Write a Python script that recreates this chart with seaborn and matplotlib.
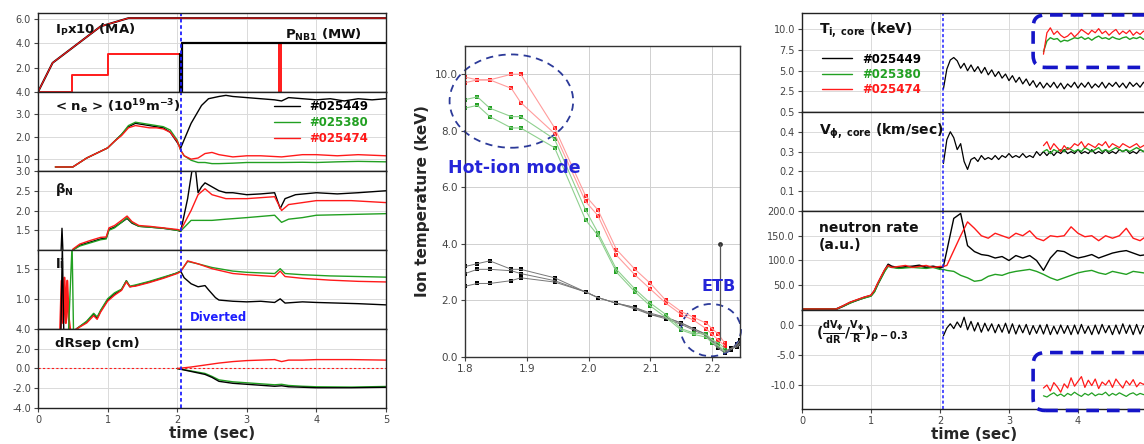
import matplotlib
matplotlib.use('Agg')
import matplotlib.pyplot as plt
import seaborn as sns
from matplotlib.patches import Ellipse, FancyBboxPatch
from matplotlib.lines import Line2D

# ---------------- data ----------------
shots = ['#025449', '#025380', '#025474']

# left: Ip x10 and NBI power
ip_t = [0, 0.21, 0.9, 1.3, 5.0]
ip = [0, 2.4, 5.4, 6.08, 6.08]
pnb_red_t = [0, 0.49, 0.49, 1.0, 1.0, 2.04, 2.04, 2.07, 2.07, 3.46, 3.46, 3.49, 3.49, 5.0]
pnb_red = [0, 0, 1.4, 1.4, 3.15, 3.15, 0, 0, 4.0, 4.0, 0, 0, 4.0, 4.0]
pnb_blk_t = [2.04, 2.04, 2.07, 2.07, 3.45, 3.5, 5.0]
pnb_blk = [3.15, 0, 0, 4.0, 4.0, 4.0, 4.0]

# left: line averaged density
ne_t_pre = [0.25, 0.5, 0.7, 0.9, 1.0, 1.1, 1.2, 1.3, 1.4, 1.5, 1.6, 1.7, 1.8, 1.9, 2.0, 2.05]
ne_blk_pre = [0.65, 0.65, 1.05, 1.35, 1.5, 1.8, 2.1, 2.45, 2.6, 2.55, 2.5, 2.45, 2.4, 2.2, 1.75, 1.5]
ne_grn_pre = [0.65, 0.65, 1.05, 1.35, 1.5, 1.8, 2.1, 2.5, 2.65, 2.6, 2.55, 2.5, 2.45, 2.3, 1.85, 1.4]
ne_red_pre = [0.65, 0.65, 1.05, 1.35, 1.5, 1.8, 2.05, 2.4, 2.5, 2.45, 2.4, 2.4, 2.35, 2.2, 1.8, 1.4]
ne_blk_t_post = [2.05, 2.2, 2.35, 2.45, 2.6, 2.7, 2.8, 3.0, 3.2, 3.4, 3.5, 3.6, 3.8, 4.0, 4.2, 4.4, 4.6, 4.8, 5.0]
ne_blk_post = [1.5, 2.6, 3.4, 3.7, 3.8, 3.85, 3.8, 3.75, 3.7, 3.65, 3.6, 3.75, 3.7, 3.65, 3.7, 3.6, 3.7, 3.65, 3.7]
ne_t_post = [2.05, 2.1, 2.2, 2.3, 2.4, 2.5, 2.6, 2.8, 3.0, 3.2, 3.5, 3.8, 4.0, 4.3, 4.6, 5.0]
ne_red_post = [1.4, 1.15, 1.0, 1.05, 1.25, 1.3, 1.2, 1.1, 1.15, 1.15, 1.1, 1.2, 1.2, 1.15, 1.2, 1.15]
ne_grn_post = [1.4, 1.15, 0.95, 0.85, 0.85, 0.8, 0.8, 0.82, 0.85, 0.85, 0.85, 0.86, 0.85, 0.88, 0.9, 0.88]

# left: beta_N
bn_t_pre = [0.5, 0.6, 0.75, 0.9, 0.98, 1.02, 1.1, 1.2, 1.28, 1.35, 1.45, 1.6, 1.8, 2.0, 2.05]
bn_blk_pre = [1.0, 1.12, 1.2, 1.28, 1.3, 1.52, 1.58, 1.7, 1.8, 1.68, 1.6, 1.58, 1.55, 1.5, 1.47]
bn_red_pre = [1.02, 1.15, 1.24, 1.32, 1.33, 1.56, 1.62, 1.75, 1.86, 1.72, 1.62, 1.6, 1.56, 1.52, 1.5]
bn_grn_pre = [1.0, 1.1, 1.18, 1.26, 1.28, 1.5, 1.56, 1.7, 1.82, 1.7, 1.6, 1.58, 1.55, 1.5, 1.48]
bn_blk_t_post = [2.05, 2.15, 2.22, 2.26, 2.3, 2.35, 2.4, 2.5, 2.6, 2.7, 2.8, 3.0, 3.2, 3.4, 3.48, 3.55, 3.7, 4.0, 4.3, 4.6, 5.0]
bn_blk_post = [1.47, 2.3, 3.1, 3.1, 2.45, 2.6, 2.7, 2.6, 2.5, 2.45, 2.45, 2.4, 2.42, 2.45, 2.05, 2.3, 2.4, 2.45, 2.42, 2.45, 2.5]
bn_t_post = [2.05, 2.2, 2.3, 2.4, 2.5, 2.7, 3.0, 3.4, 3.5, 3.6, 3.8, 4.0, 4.5, 5.0]
bn_red_post = [1.5, 2.0, 2.4, 2.55, 2.4, 2.3, 2.3, 2.35, 2.0, 2.15, 2.2, 2.25, 2.25, 2.2]
bn_grn_post = [1.48, 1.75, 1.75, 1.75, 1.75, 1.78, 1.82, 1.88, 1.7, 1.78, 1.82, 1.88, 1.9, 1.92]
bn_spk_t = [0.33, 0.345, 0.36]
bn_spk = [0.9, 1.55, 0.9]

# left: internal inductance
li_t_pre = [0.55, 0.7, 0.8, 0.85, 0.9, 1.0, 1.1, 1.2, 1.27, 1.32, 1.4, 1.6, 1.8, 2.0, 2.05]
li_blk_pre = [0.5, 0.62, 0.75, 0.68, 0.8, 0.98, 1.08, 1.15, 1.3, 1.2, 1.22, 1.28, 1.35, 1.43, 1.46]
li_red_pre = [0.5, 0.6, 0.72, 0.66, 0.78, 0.96, 1.06, 1.14, 1.28, 1.2, 1.21, 1.27, 1.34, 1.42, 1.45]
li_grn_pre = [0.5, 0.63, 0.76, 0.7, 0.81, 1.0, 1.1, 1.16, 1.3, 1.21, 1.23, 1.29, 1.36, 1.43, 1.46]
li_t_post = [2.05, 2.15, 2.3, 2.5, 2.8, 3.0, 3.4, 3.48, 3.55, 3.8, 4.2, 4.6, 5.0]
li_red_post = [1.45, 1.63, 1.58, 1.5, 1.42, 1.4, 1.37, 1.46, 1.37, 1.34, 1.31, 1.29, 1.28]
li_grn_post = [1.46, 1.62, 1.58, 1.52, 1.46, 1.44, 1.42, 1.5, 1.42, 1.4, 1.38, 1.37, 1.36]
li_blk_t_post = [2.05, 2.1, 2.2, 2.3, 2.4, 2.45, 2.55, 2.6, 2.8, 3.0, 3.2, 3.4, 3.48, 3.55, 3.8, 4.0, 4.3, 4.6, 5.0]
li_blk_post = [1.46, 1.35, 1.25, 1.2, 1.22, 1.15, 1.02, 0.98, 0.96, 0.95, 0.96, 0.94, 1.0, 0.93, 0.95, 0.94, 0.93, 0.92, 0.9]
li_red_spk_t = [0.32, 0.34, 0.36, 0.38, 0.40, 0.42, 0.44, 0.46]
li_red_spk = [0.5, 1.3, 0.6, 1.35, 0.6, 1.3, 0.7, 0.5]
li_grn_spk_t = [0.44, 0.47, 0.49, 0.51]
li_grn_spk = [0.5, 1.35, 1.9, 0.5]
li_blk_spk_t = [0.33, 0.35, 0.37]
li_blk_spk = [0.5, 1.9, 0.5]

# left: gap to separatrix
dr_t = [2.0, 2.2, 2.4, 2.5, 2.6, 2.8, 3.0, 3.2, 3.4, 3.5, 3.6, 3.8, 4.0, 4.5, 5.0]
dr_blk = [0, -0.3, -0.6, -0.9, -1.3, -1.5, -1.6, -1.7, -1.8, -1.75, -1.85, -1.9, -1.95, -1.95, -1.9]
dr_grn = [0, -0.25, -0.5, -0.8, -1.15, -1.35, -1.45, -1.55, -1.65, -1.6, -1.72, -1.8, -1.85, -1.88, -1.82]
dr_red = [0, 0.15, 0.35, 0.45, 0.55, 0.7, 0.8, 0.85, 0.9, 0.7, 0.85, 0.85, 0.9, 0.9, 0.85]

# middle: ion temperature profiles (major radius in m)
R_hot = [1.80, 1.82, 1.84, 1.875, 1.89, 1.945, 1.995, 2.015, 2.045, 2.075, 2.10, 2.125, 2.15, 2.17, 2.19, 2.20, 2.21, 2.22]
ti_red1 = [9.9, 9.8, 9.8, 10.0, 10.0, 8.1, 5.7, 5.2, 3.8, 3.1, 2.6, 2.0, 1.6, 1.4, 1.2, 1.0, 0.8, 0.5]
ti_red2 = [9.7, 9.8, 9.8, 9.5, 9.0, 7.9, 5.5, 5.0, 3.6, 2.9, 2.4, 1.9, 1.5, 1.3, 1.0, 0.8, 0.6, 0.4]
ti_grn1 = [9.1, 9.2, 8.8, 8.5, 8.5, 7.7, 5.2, 4.4, 3.1, 2.4, 1.9, 1.5, 1.0, 0.85, 0.8, 0.6, 0.5, 0.3]
ti_grn2 = [8.8, 8.9, 8.5, 8.1, 8.1, 7.4, 4.85, 4.3, 3.0, 2.3, 1.8, 1.4, 0.95, 0.8, 0.7, 0.5, 0.4, 0.2]
R_blk = [1.80, 1.82, 1.84, 1.875, 1.89, 1.945, 1.995, 2.015, 2.045, 2.075, 2.10, 2.125, 2.15, 2.17, 2.19, 2.20, 2.21, 2.22, 2.23, 2.24, 2.245]
ti_blk1 = [3.2, 3.3, 3.4, 3.1, 3.1, 2.8, 2.3, 2.1, 1.9, 1.75, 1.55, 1.4, 1.2, 1.0, 0.8, 0.6, 0.4, 0.2, 0.3, 0.45, 0.6]
ti_blk2 = [2.95, 3.1, 3.1, 3.05, 2.95, 2.7, 2.3, 2.1, 1.9, 1.7, 1.5, 1.35, 1.15, 0.95, 0.75, 0.5, 0.3, 0.15, 0.25, 0.4, 0.5]
ti_blk3 = [2.5, 2.6, 2.6, 2.7, 2.8, 2.65, 2.3, 2.1, 1.9, 1.75, 1.5, 1.4, 1.2, 1.0, 0.8, 0.55, 0.35, 0.2, 0.3, 0.35, 0.45]
etb_r = [2.212, 2.212]
etb_err = [0.6, 4.0]

# right: core quantities
t_fast = [2.05, 2.10, 2.15, 2.20, 2.25, 2.30, 2.35, 2.40, 2.45, 2.50,
          2.55, 2.60, 2.65, 2.70, 2.75, 2.80, 2.85, 2.90, 2.95, 3.00,
          3.05, 3.10, 3.15, 3.20, 3.25, 3.30, 3.35, 3.40, 3.45, 3.50,
          3.55, 3.60, 3.65, 3.70, 3.75, 3.80, 3.85, 3.90, 3.95, 4.00,
          4.05, 4.10, 4.15, 4.20, 4.25, 4.30, 4.35, 4.40, 4.45, 4.50,
          4.55, 4.60, 4.65, 4.70, 4.75, 4.80, 4.85, 4.90, 4.95, 5.00]
tic_blk = [2.8, 5.2, 6.3, 6.6, 6.2, 5.3, 5.9, 5.0, 5.7, 4.9,
           5.5, 4.7, 5.4, 4.5, 5.1, 4.3, 4.9, 4.1, 4.6, 3.8,
           4.4, 3.6, 4.2, 3.4, 4.0, 3.2, 3.8, 3.0, 3.6, 2.9,
           3.5, 3.0, 3.6, 2.9, 3.5, 2.8, 3.4, 3.0, 3.6, 2.9,
           3.5, 3.0, 3.6, 2.9, 3.4, 3.0, 3.6, 2.9, 3.5, 3.1,
           3.6, 3.0, 3.5, 2.9, 3.6, 3.1, 3.5, 3.0, 3.6, 3.2]
vphi_blk = [0.24, 0.36, 0.40, 0.37, 0.31, 0.34, 0.25, 0.21, 0.26, 0.27,
            0.25, 0.28, 0.26, 0.27, 0.26, 0.28, 0.26, 0.28, 0.27, 0.29,
            0.27, 0.28, 0.27, 0.29, 0.27, 0.28, 0.27, 0.30, 0.28, 0.30,
            0.28, 0.30, 0.28, 0.30, 0.29, 0.31, 0.29, 0.30, 0.29, 0.31,
            0.29, 0.30, 0.29, 0.31, 0.29, 0.30, 0.29, 0.31, 0.29, 0.30,
            0.29, 0.31, 0.30, 0.31, 0.29, 0.30, 0.29, 0.31, 0.30, 0.31]
shear_blk = [-1.8, -0.5, 0.2, -0.6, 0.5, -0.4, 1.3, -0.8, 0.6, -1.0,
             0.4, -1.2, 0.3, -1.0, 0.2, -1.3, 0.1, -1.2, 0.3, -1.4,
             0.2, -1.5, 0.0, -1.3, 0.1, -1.6, -0.1, -1.4, 0.0, -1.5,
             0.1, -1.6, -0.2, -1.5, 0.0, -1.4, -0.1, -1.6, 0.0, -1.5,
             0.1, -1.4, -0.2, -1.6, 0.0, -1.5, 0.1, -1.3, -0.1, -1.6,
             0.0, -1.5, 0.2, -1.4, 0.0, -1.6, 0.1, -1.5, -0.1, -1.3]

t_box = [3.50, 3.55, 3.60, 3.65, 3.70, 3.75, 3.80, 3.85, 3.90, 3.95,
         4.00, 4.05, 4.10, 4.15, 4.20, 4.25, 4.30, 4.35, 4.40, 4.45,
         4.50, 4.55, 4.60, 4.65, 4.70, 4.75, 4.80, 4.85, 4.90, 4.95, 5.00]
tic_red = [7.0, 9.6, 10.2, 9.4, 9.8, 9.3, 9.0, 9.2, 9.6, 9.1,
           9.5, 10.0, 9.7, 9.4, 9.9, 9.6, 10.1, 9.5, 9.8, 9.3,
           9.7, 10.0, 9.4, 9.8, 9.5, 9.9, 9.3, 9.7, 9.4, 9.8, 9.5]
tic_grn = [7.3, 8.6, 9.0, 8.8, 8.9, 8.5, 8.7, 8.6, 8.8, 9.0,
           8.9, 9.1, 8.8, 9.0, 8.7, 9.0, 9.2, 8.9, 9.0, 8.8,
           9.1, 8.9, 8.8, 9.0, 9.1, 8.8, 9.0, 8.9, 9.1, 8.8, 9.0]
vphi_red = [0.33, 0.35, 0.31, 0.34, 0.32, 0.30, 0.33, 0.31, 0.32, 0.34,
            0.33, 0.35, 0.32, 0.34, 0.33, 0.32, 0.34, 0.33, 0.35, 0.32,
            0.34, 0.33, 0.32, 0.34, 0.33, 0.32, 0.33, 0.34, 0.32, 0.33, 0.34]
vphi_grn = [0.30, 0.31, 0.29, 0.31, 0.30, 0.31, 0.30, 0.32, 0.31, 0.30,
            0.31, 0.30, 0.32, 0.31, 0.30, 0.31, 0.32, 0.30, 0.31, 0.30,
            0.31, 0.32, 0.31, 0.30, 0.31, 0.30, 0.31, 0.32, 0.31, 0.30, 0.31]
shear_red = [-10.5, -10.0, -11.0, -9.6, -10.3, -11.2, -9.8, -10.5, -8.8, -10.2,
             -9.4, -8.6, -10.4, -9.2, -10.1, -9.0, -10.6, -9.5, -10.0, -9.2,
             -10.4, -9.0, -9.8, -10.5, -9.3, -10.0, -9.1, -10.3, -9.6, -9.9, -9.4]
shear_grn = [-11.8, -12.0, -11.6, -11.3, -11.8, -11.5, -11.9, -11.4, -11.7, -11.2,
             -11.6, -11.9, -11.4, -11.7, -11.3, -11.8, -11.5, -11.6, -11.2, -11.8,
             -11.4, -11.7, -11.3, -11.6, -11.9, -11.5, -11.3, -11.7, -11.4, -11.6, -11.5]

# right: neutron rate
nr_t_pre = [0, 0.5, 0.6, 0.7, 0.8, 0.9, 1.0, 1.05, 1.1, 1.2, 1.25, 1.3, 1.4, 1.5, 1.6, 1.7, 1.8, 1.9, 2.0, 2.05]
nr_blk_pre = [2, 2, 8, 15, 20, 25, 29, 38, 53, 80, 92, 88, 85, 87, 88, 90, 86, 88, 85, 88]
nr_red_pre = [2, 2, 9, 16, 21, 26, 30, 40, 55, 82, 90, 86, 88, 90, 86, 88, 90, 86, 88, 88]
nr_grn_pre = [2, 2, 8, 14, 20, 24, 28, 36, 52, 78, 88, 86, 84, 85, 86, 85, 84, 86, 82, 82]
t_slow = [2.05, 2.1, 2.2, 2.3, 2.4, 2.5, 2.6, 2.7, 2.8, 2.9,
          3.0, 3.1, 3.2, 3.3, 3.4, 3.5, 3.6, 3.7, 3.8, 3.9,
          4.0, 4.1, 4.2, 4.3, 4.4, 4.5, 4.6, 4.7, 4.8, 4.9, 5.0]
nr_blk = [88, 120, 185, 195, 130, 118, 112, 110, 105, 108,
          100, 110, 105, 110, 100, 80, 105, 120, 118, 110,
          105, 108, 112, 105, 110, 115, 118, 120, 115, 110, 112]
nr_red = [88, 90, 120, 150, 178, 165, 150, 145, 155, 150,
          145, 155, 150, 160, 145, 140, 150, 148, 150, 168,
          155, 148, 150, 140, 150, 145, 150, 165, 145, 140, 150]
nr_grn = [82, 80, 78, 70, 65, 58, 60, 68, 72, 70,
          75, 78, 80, 82, 78, 72, 65, 60, 65, 70,
          75, 78, 80, 75, 72, 78, 75, 72, 78, 76, 74]

t_divert = 2.05
time_ticks = [0, 1, 2, 3, 4, 5]
right_time_labels = ['0', '1', '2', '3', '4', '']

# ---------------- style ----------------
BLK, GRN, RED = 'black', '#22a022', '#ff1a1a'
BLUE = '#1f1fff'
sns.set_style('whitegrid', {'axes.edgecolor': '0.15', 'grid.color': '0.86'})
plt.rcParams['font.family'] = ['DejaVu Sans']
plt.rcParams['mathtext.default'] = 'bf'
plt.rcParams['axes.unicode_minus'] = False


def trace(ax, t, v, color, lw=1.0, **kw):
    sns.lineplot(x=t, y=v, ax=ax, color=color, lw=lw, estimator=None,
                 sort=False, legend=False, **kw)


def style(ax, xlim, ylim, yticks, bottom=False):
    ax.set_xlim(*xlim)
    ax.set_ylim(*ylim)
    ax.set_yticks(yticks)
    ax.yaxis.set_major_formatter('{x:.1f}')
    ax.tick_params(labelsize=7, colors='#444444', length=3, width=0.8,
                   left=True, bottom=True, pad=2)
    ax.tick_params(labelbottom=bottom)
    ax.set_xlabel('')
    ax.set_ylabel('')
    ax.grid(True, color='#dadada', lw=0.7)
    for s in ax.spines.values():
        s.set_color('#222222')
        s.set_linewidth(1.0)


def label(ax, x, y, s, size=9.5, color='#111111', va='center', **kw):
    ax.text(x, y, s, transform=ax.transAxes, fontsize=size, fontweight='bold',
            color=color, va=va, ha='left', **kw)


fig = plt.figure(figsize=(11.44, 4.44), dpi=100)

# ---------------- left column ----------------
L_left, L_w, L_bot, L_h = 0.0332, 0.3042, 0.0811, 0.8896 / 5
lax = [fig.add_axes([L_left, L_bot + (4 - i) * L_h, L_w, L_h]) for i in range(5)]

ax = lax[0]
trace(ax, ip_t, ip, BLK, lw=1.4)
trace(ax, ip_t, ip, RED, lw=0.8)
trace(ax, pnb_red_t, pnb_red, RED, lw=1.4)
trace(ax, pnb_blk_t, pnb_blk, BLK, lw=1.6)
style(ax, (0, 5), (0, 6.5), [2, 4, 6])
label(ax, 0.05, 0.79, r'$I_P$x10 (MA)')
label(ax, 0.71, 0.72, r'$P_{NB1}$ (MW)')

ax = lax[1]
trace(ax, ne_t_pre, ne_blk_pre, BLK)
trace(ax, ne_t_pre, ne_grn_pre, GRN)
trace(ax, ne_t_pre, ne_red_pre, RED)
trace(ax, ne_blk_t_post, ne_blk_post, BLK)
trace(ax, ne_t_post, ne_grn_post, GRN)
trace(ax, ne_t_post, ne_red_post, RED)
style(ax, (0, 5), (0.47, 4.0), [1, 2, 3, 4])
label(ax, 0.05, 0.81, r'< $n_e$ > (10$^{19}$m$^{-3}$)')
handles = [Line2D([], [], color=c, lw=1.0) for c in (BLK, GRN, RED)]
leg = ax.legend(handles, shots, loc='upper left', bbox_to_anchor=(0.66, 0.97),
                frameon=False, prop={'weight': 'bold', 'size': 8.5},
                handlelength=2.2, labelspacing=0.25, borderpad=0)
for txt, c in zip(leg.get_texts(), (BLK, GRN, RED)):
    txt.set_color(c)

ax = lax[2]
trace(ax, bn_spk_t, bn_spk, BLK)
trace(ax, bn_t_pre, bn_blk_pre, BLK)
trace(ax, bn_t_pre, bn_grn_pre, GRN)
trace(ax, bn_t_pre, bn_red_pre, RED)
trace(ax, bn_blk_t_post, bn_blk_post, BLK)
trace(ax, bn_t_post, bn_grn_post, GRN)
trace(ax, bn_t_post, bn_red_post, RED)
style(ax, (0, 5), (1.0, 3.0), [1.5, 2.0, 2.5, 3.0])
label(ax, 0.05, 0.76, r'$\beta_N$')

ax = lax[3]
trace(ax, li_red_spk_t, li_red_spk, RED, lw=1.6)
trace(ax, li_blk_spk_t, li_blk_spk, BLK)
trace(ax, li_grn_spk_t, li_grn_spk, GRN)
trace(ax, li_t_pre, li_blk_pre, BLK)
trace(ax, li_t_pre, li_grn_pre, GRN)
trace(ax, li_t_pre, li_red_pre, RED)
trace(ax, li_blk_t_post, li_blk_post, BLK)
trace(ax, li_t_post, li_grn_post, GRN)
trace(ax, li_t_post, li_red_post, RED)
style(ax, (0, 5), (0.5, 1.81), [1.0, 1.5])
label(ax, 0.05, 0.82, 'li')
label(ax, 0.437, 0.15, 'Diverted', size=8.5, color=BLUE)

ax = lax[4]
ax.axhline(0, color=RED, ls=(0, (2, 2)), lw=0.8)
trace(ax, dr_t, dr_grn, GRN)
trace(ax, dr_t, dr_blk, BLK)
trace(ax, dr_t, dr_red, RED)
style(ax, (0, 5), (-4, 4), [-4, -2, 0, 2, 4], bottom=True)
label(ax, 0.05, 0.82, 'dRsep (cm)')
ax.set_xlabel('time (sec)', fontsize=11, fontweight='bold', labelpad=1)

for ax in lax:
    ax.axvline(t_divert, color=BLUE, ls=(0, (2, 1.5)), lw=1.3)
    ax.set_xticks(time_ticks)

# ---------------- middle: Ti profiles ----------------
max_ = fig.add_axes([0.4065, 0.196, 0.2404, 0.7005])
for prof, c in ((ti_blk1, BLK), (ti_blk2, BLK), (ti_blk3, BLK)):
    trace(max_, R_blk, prof, '#777777', lw=0.7)
    sns.scatterplot(x=R_blk, y=prof, ax=max_, color=c, marker='s', s=10,
                    linewidth=0, legend=False)
for prof, lc, c in ((ti_grn1, '#8fd08f', GRN), (ti_grn2, '#8fd08f', GRN),
                    (ti_red1, '#ff9c9c', RED), (ti_red2, '#ff9c9c', RED)):
    trace(max_, R_hot, prof, lc, lw=0.8)
    sns.scatterplot(x=R_hot, y=prof, ax=max_, color=c, marker='s', s=12,
                    linewidth=0, legend=False)
trace(max_, etb_r, etb_err, '#555555', lw=0.9)
sns.scatterplot(x=etb_r[1:], y=etb_err[1:], ax=max_, color='#333333', s=12,
                linewidth=0, legend=False)
max_.set_xlim(1.8, 2.245)
max_.set_ylim(0, 11)
max_.set_xticks([1.8, 1.9, 2.0, 2.1, 2.2])
max_.set_yticks([0, 2, 4, 6, 8, 10])
max_.yaxis.set_major_formatter('{x:.1f}')
max_.xaxis.set_major_formatter('{x:.1f}')
max_.tick_params(labelsize=7.5, colors='#444444', length=3, width=0.8,
                 left=True, bottom=True, pad=2)
max_.grid(True, color='#d0d0d0', lw=0.7)
for s in max_.spines.values():
    s.set_color('#333333')
    s.set_linewidth(1.0)
max_.set_xlabel('')
max_.set_ylabel('Ion temperature (keV)', fontsize=11, fontweight='bold', labelpad=4)
max_.add_patch(Ellipse((1.875, 9.05), 0.2, 3.3, fill=False, ec='#2c3a99',
                       ls=(0, (4, 3)), lw=1.3, clip_on=False))
max_.add_patch(Ellipse((2.198, 0.95), 0.097, 1.85, fill=False, ec='#2c3a99',
                       ls=(0, (4, 3)), lw=1.3, clip_on=False))
max_.text(1.88, 6.7, 'Hot-ion mode', fontsize=12.5, fontweight='bold',
          color='#2525d8', ha='center', va='center')
max_.text(2.21, 2.5, 'ETB', fontsize=11.5, fontweight='bold',
          color='#2525d8', ha='center', va='center')

# ---------------- right column ----------------
R_left, R_w, R_bot, R_h = 0.7010, 0.3016, 0.0788, 0.892 / 4
rax = [fig.add_axes([R_left, R_bot + (3 - i) * R_h, R_w, R_h]) for i in range(4)]

ax = rax[0]
trace(ax, t_fast, tic_blk, BLK, lw=0.9)
trace(ax, t_box, tic_grn, GRN, lw=1.0)
trace(ax, t_box, tic_red, RED, lw=0.9)
style(ax, (0, 5), (0, 12), [2.5, 5.0, 7.5, 10.0])
label(ax, 0.05, 0.83, r'$T_{i,\ core}$ (keV)', size=10)
handles = [Line2D([], [], color=c, lw=1.0) for c in (BLK, GRN, RED)]
leg = ax.legend(handles, shots, loc='upper left', bbox_to_anchor=(0.04, 0.66),
                frameon=False, prop={'weight': 'bold', 'size': 8.5},
                handlelength=2.6, labelspacing=0.2, borderpad=0)
for txt, c in zip(leg.get_texts(), (BLK, GRN, RED)):
    txt.set_color(c)

ax = rax[1]
trace(ax, t_fast, vphi_blk, BLK, lw=0.9)
trace(ax, t_box, vphi_grn, GRN, lw=1.0)
trace(ax, t_box, vphi_red, RED, lw=0.9)
style(ax, (0, 5), (0, 0.5), [0.1, 0.2, 0.3, 0.4, 0.5])
label(ax, 0.05, 0.8, r'$V_{\phi,\ core}$ (km/sec)', size=10)

ax = rax[2]
trace(ax, nr_t_pre, nr_blk_pre, BLK, lw=1.4)
trace(ax, nr_t_pre, nr_grn_pre, GRN)
trace(ax, nr_t_pre, nr_red_pre, RED)
trace(ax, t_slow, nr_blk, BLK)
trace(ax, t_slow, nr_grn, GRN)
trace(ax, t_slow, nr_red, RED)
style(ax, (0, 5), (0, 200), [50, 100, 150, 200])
label(ax, 0.05, 0.9, 'neutron rate\n(a.u.)', size=10, va='top', linespacing=1.25)

ax = rax[3]
trace(ax, t_fast, shear_blk, BLK, lw=0.9)
trace(ax, t_box, shear_grn, GRN, lw=0.9)
trace(ax, t_box, shear_red, RED, lw=0.9)
style(ax, (0, 5), (-14, 2.5), [-10, -5, 0], bottom=True)
label(ax, 0.04, 0.78, r'$(\frac{dV_\phi}{dR}/\frac{V_\phi}{R})_{\rho-0.3}$', size=10)
ax.set_xlabel('time (sec)', fontsize=11, fontweight='bold', labelpad=1)

for ax in rax:
    ax.axvline(t_divert, color=BLUE, ls=(0, (2, 1.5)), lw=1.1)
    ax.set_xticks(time_ticks)
rax[3].set_xticklabels(right_time_labels)

# dashed highlight boxes in the right column
for ax, y0, h in ((rax[0], 0.45, 0.53), (rax[3], -0.015, 0.585)):
    ax.add_patch(FancyBboxPatch((0.67, y0), 0.36, h, transform=ax.transAxes,
                                boxstyle='round,pad=0,rounding_size=0.035',
                                mutation_aspect=345 / 99, fill=False,
                                ec='#1515c8', lw=2.6, ls=(0, (3.5, 2.2)),
                                clip_on=False, zorder=5))

fig.savefig('out.png', dpi=100)
